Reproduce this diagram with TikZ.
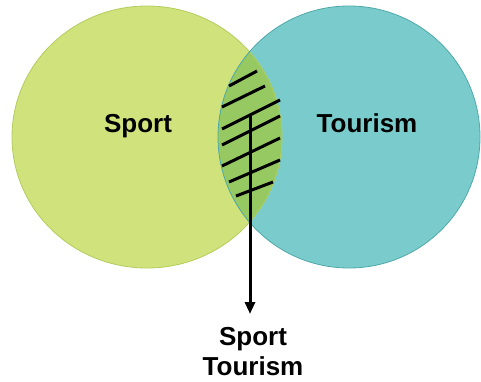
\documentclass[tikz,border=0pt]{standalone}
\usepackage{fontspec}
\setmainfont{Liberation Sans}
\usetikzlibrary{arrows.meta}

\definecolor{sportfill}{RGB}{208,226,124}
\definecolor{sportedge}{RGB}{178,205,92}
\definecolor{tourfill}{RGB}{122,204,204}
\definecolor{touredge}{RGB}{78,168,168}
\definecolor{bothfill}{RGB}{150,201,98}

\begin{document}
\begin{tikzpicture}[x=1pt,y=-1pt,
  label text/.style={font=\fontsize{26}{30}\selectfont\bfseries, inner sep=0pt, align=center},
  hatch/.style={line width=3pt, black},
  pointer/.style={line width=3pt, black, -{Triangle[length=12pt,width=10pt]}}]
  \useasboundingbox (0,0) rectangle (481,381);

  % the two sets
  \fill[sportfill] (147,137) ellipse [x radius=135pt, y radius=131pt];
  \fill[tourfill] (349,137) circle [radius=131pt];
  % their overlap
  \begin{scope}
    \clip (147,137) ellipse [x radius=135pt, y radius=131pt];
    \fill[bothfill] (349,137) circle [radius=131pt];
  \end{scope}
  \draw[sportedge, line width=0.8pt] (147,137) ellipse [x radius=135pt, y radius=131pt];
  \draw[touredge, line width=0.8pt] (349,137) circle [radius=131pt];

  % hatching of the overlap
  \draw[hatch] (229,86) -- (257,71);
  \draw[hatch] (222,107) -- (265,86);
  \draw[hatch] (222,129) -- (280,100);
  \draw[hatch] (222,145) -- (280,116);
  \draw[hatch] (222,166) -- (280,138);
  \draw[hatch] (229,182) -- (280,160);
  \draw[hatch] (236,196) -- (273,182);

  % labels
  \node[label text, anchor=base] (sport) at (138,132) {Sport};
  \node[label text, anchor=base] (tourism) at (367,132) {Tourism};
  \node[label text, anchor=north] (both) at (253,327) {Sport\\Tourism};

  % pointer from the hatching down to the label
  \coordinate (from) at (250,115);
  \coordinate (tip) at (250,314);
  \draw[pointer] (from) -- (tip);
\end{tikzpicture}
\end{document}
